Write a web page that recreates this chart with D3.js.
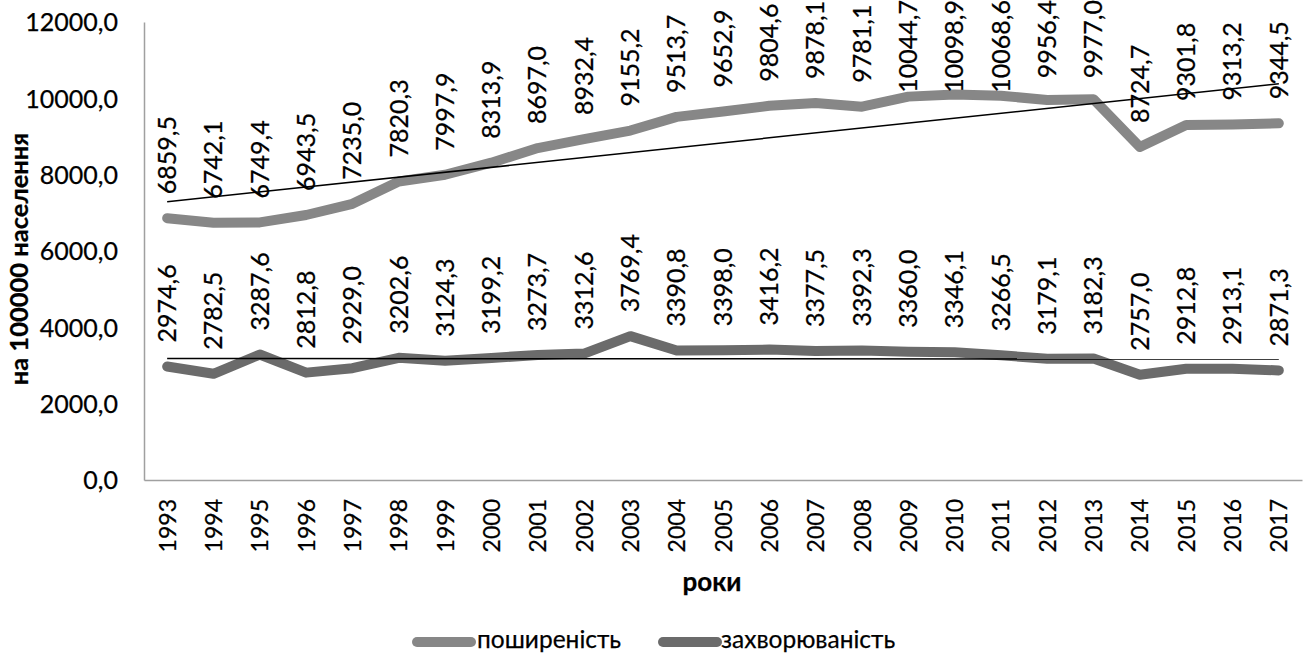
<!DOCTYPE html>
<html>
<head>
<meta charset="utf-8">
<script src="https://cdn.jsdelivr.net/npm/d3@7/dist/d3.min.js"></script>
<style>
  html, body { margin: 0; padding: 0; background: #fff; }
  svg { display: block; overflow: visible; }
  text { font-family: Lato, "Open Sans", sans-serif; fill: #000; stroke: #000; stroke-width: 0.25px; }
</style>
</head>
<body>
<svg id="chart" width="1308" height="653"></svg>
<script>
// Years on the category axis
const years = ["1993","1994","1995","1996","1997","1998","1999","2000","2001","2002","2003","2004","2005","2006","2007","2008","2009","2010","2011","2012","2013","2014","2015","2016","2017"];

// Prevalence per 100 000 population
const prevalence = [6859.5, 6742.1, 6749.4, 6943.5, 7235.0, 7820.3, 7997.9, 8313.9, 8697.0, 8932.4, 9155.2, 9513.7, 9652.9, 9804.6, 9878.1, 9781.1, 10044.7, 10098.9, 10068.6, 9956.4, 9977.0, 8724.7, 9301.8, 9313.2, 9344.5];

// Incidence per 100 000 population
const incidence = [2974.6, 2782.5, 3287.6, 2812.8, 2929.0, 3202.6, 3124.3, 3199.2, 3273.7, 3312.6, 3769.4, 3390.8, 3398.0, 3416.2, 3377.5, 3392.3, 3360.0, 3346.1, 3266.5, 3179.1, 3182.3, 2757.0, 2912.8, 2913.1, 2871.3];

const seriesNames = ["поширеність", "захворюваність"];
const yTicks = [0, 2000, 4000, 6000, 8000, 10000, 12000];

const svg = d3.select("#chart");

const plot = { left: 144, right: 1302, top: 22, bottom: 480 };
const colors = ["#878787", "#6b6b6b"];

const x = d3.scalePoint().domain(years).range([plot.left, plot.right]).padding(0.5);
const y = d3.scaleLinear().domain([0, 12000]).range([plot.bottom, plot.top]);

const fmt = v => d3.format(".1f")(v).replace(".", ",");

// Axes
const axisColor = "#a0a0a0";
const yAxis = d3.axisLeft(y).tickValues(yTicks).tickSize(0).tickPadding(26).tickFormat(fmt);
const gy = svg.append("g").attr("transform", `translate(${plot.left},0)`).call(yAxis);
gy.select(".domain").attr("stroke", axisColor).attr("stroke-width", 1.5);
gy.selectAll("text").style("font-size", "25px").attr("dy", "0.35em");

const xAxis = d3.axisBottom(x).tickSize(0).tickPadding(0);
const gx = svg.append("g").attr("transform", `translate(0,${plot.bottom})`).call(xAxis);
gx.select(".domain").attr("stroke", axisColor).attr("stroke-width", 1.5);
gx.selectAll("text")
  .style("font-size", "23px")
  .attr("text-anchor", "end")
  .attr("transform", "rotate(-90)")
  .attr("x", -19)
  .attr("y", 0)
  .attr("dy", "0.35em");

// Axis titles
svg.append("text")
  .attr("transform", "translate(19,259) rotate(-90)")
  .attr("text-anchor", "middle")
  .attr("dy", "0.35em")
  .style("font-size", "25.5px").style("font-weight", "bold")
  .text("на 100000 населення");

svg.append("text")
  .attr("x", 712).attr("y", 582)
  .attr("text-anchor", "middle")
  .attr("dy", "0.35em")
  .style("font-size", "26px").style("font-weight", "bold")
  .text("роки");

// Series lines
const line = d3.line().x((d, i) => x(years[i])).y(d => y(d));
[prevalence, incidence].forEach((vals, k) => {
  svg.append("path")
    .datum(vals)
    .attr("fill", "none")
    .attr("stroke", colors[k])
    .attr("stroke-width", 10)
    .attr("stroke-linecap", "round")
    .attr("stroke-linejoin", "round")
    .attr("d", line);
});

// Linear trend lines (least squares over the year index)
function trend(vals) {
  const n = vals.length;
  const xs = d3.range(n);
  const mx = d3.mean(xs), my = d3.mean(vals);
  const b = d3.sum(xs, (xi, i) => (xi - mx) * (vals[i] - my)) / d3.sum(xs, xi => (xi - mx) ** 2);
  const a = my - b * mx;
  return [a, a + b * (n - 1)];
}
[prevalence, incidence].forEach(vals => {
  const [v0, v1] = trend(vals);
  svg.append("line")
    .attr("x1", x(years[0])).attr("y1", y(v0))
    .attr("x2", x(years[years.length - 1])).attr("y2", y(v1))
    .attr("stroke", "#000").attr("stroke-width", 1.5);
});

// Value labels above each point, kept inside the top edge
[prevalence, incidence].forEach(vals => {
  const g = svg.append("g");
  vals.forEach((v, i) => {
    const t = g.append("text")
      .style("font-size", "25px")
      .attr("dy", "0.35em")
      .text(fmt(v));
    const len = t.node().getComputedTextLength();
    let start = y(v) - 24;
    if (start - len < 0) start = len;
    t.attr("transform", `translate(${x(years[i])},${start}) rotate(-90)`);
  });
});

// Legend
const legend = [{ x: 417, tx: 477 }, { x: 663, tx: 721 }];
legend.forEach((l, k) => {
  svg.append("line")
    .attr("x1", l.x).attr("x2", l.x + 54)
    .attr("y1", 642).attr("y2", 642)
    .attr("stroke", colors[k]).attr("stroke-width", 10)
    .attr("stroke-linecap", "round");
  svg.append("text")
    .attr("x", l.tx).attr("y", 639.5)
    .attr("dy", "0.35em")
    .style("font-size", "24.5px")
    .text(seriesNames[k]);
});
</script>
</body>
</html>
